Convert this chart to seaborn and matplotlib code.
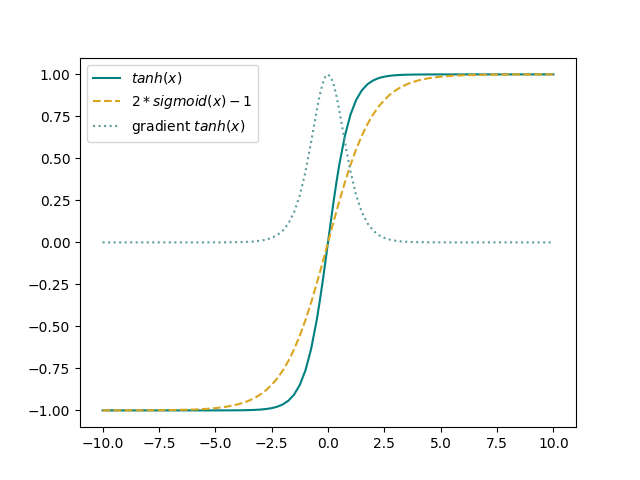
import matplotlib
matplotlib.use("Agg")
import matplotlib.pyplot as plt
import seaborn as sns
import pandas as pd

x_vals = [-10, -9, -8, -7, -6, -5.5, -5, -4.5, -4, -3.75, -3.5, -3.25, -3, -2.75,
          -2.5, -2.25, -2, -1.75, -1.5, -1.25, -1, -0.75, -0.5, -0.375, -0.25, -0.125,
          0,
          0.125, 0.25, 0.375, 0.5, 0.75, 1, 1.25, 1.5, 1.75, 2, 2.25, 2.5, 2.75,
          3, 3.25, 3.5, 3.75, 4, 4.5, 5, 5.5, 6, 7, 8, 9, 10]

tanh_vals = [-1.0, -1.0, -1.0, -1.0, -1.0, -1.0, -0.9999, -0.9998, -0.9993, -0.9989,
             -0.9982, -0.9970, -0.9951, -0.9919, -0.9866, -0.9780, -0.9640, -0.9414,
             -0.9051, -0.8483, -0.7616, -0.6351, -0.4621, -0.3584, -0.2449, -0.1244,
             0.0,
             0.1244, 0.2449, 0.3584, 0.4621, 0.6351, 0.7616, 0.8483, 0.9051, 0.9414,
             0.9640, 0.9780, 0.9866, 0.9919, 0.9951, 0.9970, 0.9982, 0.9989, 0.9993,
             0.9998, 0.9999, 1.0, 1.0, 1.0, 1.0, 1.0, 1.0]

sig_vals = [-0.9999, -0.9998, -0.9993, -0.9982, -0.9951, -0.9919, -0.9866, -0.9780,
            -0.9640, -0.9541, -0.9414, -0.9259, -0.9051, -0.8800, -0.8483, -0.8093,
            -0.7616, -0.7039, -0.6351, -0.5546, -0.4621, -0.3584, -0.2449, -0.1853,
            -0.1244, -0.0624,
            0.0,
            0.0624, 0.1244, 0.1853, 0.2449, 0.3584, 0.4621, 0.5546, 0.6351, 0.7039,
            0.7616, 0.8093, 0.8483, 0.8800, 0.9051, 0.9259, 0.9414, 0.9541, 0.9640,
            0.9780, 0.9866, 0.9919, 0.9951, 0.9982, 0.9993, 0.9998, 0.9999]

grad_vals = [0.0, 0.0, 0.0, 0.0, 0.0, 0.0001, 0.0002, 0.0005, 0.0013, 0.0022, 0.0036,
             0.0060, 0.0099, 0.0162, 0.0266, 0.0435, 0.0707, 0.1138, 0.1807, 0.2804,
             0.4200, 0.5966, 0.7864, 0.8715, 0.9400, 0.9845,
             1.0,
             0.9845, 0.9400, 0.8715, 0.7864, 0.5966, 0.4200, 0.2804, 0.1807, 0.1138,
             0.0707, 0.0435, 0.0266, 0.0162, 0.0099, 0.0060, 0.0036, 0.0022, 0.0013,
             0.0005, 0.0002, 0.0001, 0.0, 0.0, 0.0, 0.0, 0.0]

labels = [r"$tanh(x)$", r"$2*sigmoid(x)-1$", r"gradient $tanh(x)$"]

df = pd.DataFrame({"x": x_vals, "tanh": tanh_vals, "sig": sig_vals, "grad": grad_vals})

fig, ax = plt.subplots(figsize=(6.4, 4.8), dpi=100)
sns.lineplot(data=df, x="x", y="tanh", ax=ax, color="#008080", linewidth=1.5,
             label=labels[0], estimator=None)
sns.lineplot(data=df, x="x", y="sig", ax=ax, color="#DAA520", linewidth=1.5,
             linestyle="--", label=labels[1], estimator=None)
sns.lineplot(data=df, x="x", y="grad", ax=ax, color="#5F9EA0", linewidth=1.5,
             linestyle=":", label=labels[2], estimator=None)
ax.set_xlabel("")
ax.set_ylabel("")
ax.legend(loc="upper left")
fig.savefig("out.png", dpi=100)
